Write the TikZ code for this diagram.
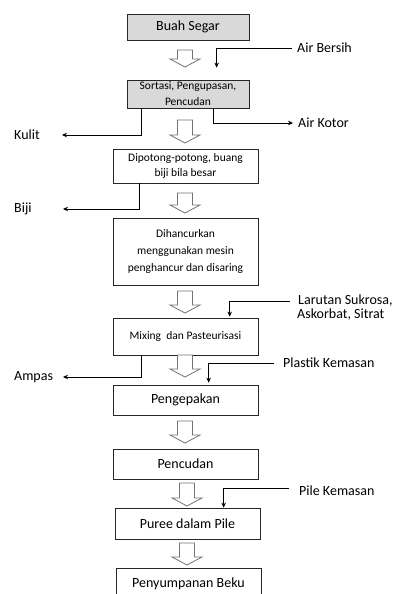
\documentclass[tikz,border=0pt]{standalone}
\usepackage{fontspec}
\setmainfont{Carlito}
\usetikzlibrary{arrows.meta}
\newcommand\blockarr[3]{\draw[hollow] (#1-7.5,#2) -- (#1+7.5,#2) -- (#1+7.5,#3-8) -- (#1+15,#3-8) -- (#1,#3) -- (#1-15,#3-8) -- (#1-7.5,#3-8) -- cycle;}
\begin{document}
\begin{tikzpicture}[x=1pt,y=-1pt,
 box/.style={draw=black!85,line width=0.7pt,fill=white,minimum width=145pt,inner sep=0pt,align=center,font=\fontsize{14}{16}\selectfont},
 graybox/.style={box,fill=black!15,minimum width=122pt},
 small/.style={font=\fontsize{11.5}{16}\selectfont},
 lbl/.style={inner sep=1pt,font=\fontsize{14}{16}\selectfont},
 conn/.style={draw=black,line width=0.6pt,-{Stealth[length=5pt,width=4.5pt]}},
 hollow/.style={draw=black!55,line width=0.8pt,fill=white}]
\useasboundingbox (0,0) rectangle (395,594);
\clip (0,0) rectangle (395,594);
% boxes
\node[graybox,minimum height=26pt] (b1) at (188,27) {Buah Segar};
\node[graybox,small,minimum height=28pt] (b2) at (188,94) {Sortasi, Pengupasan,\\Pencudan};
\node[box,small,minimum height=34pt,font=\fontsize{11.5}{15}\selectfont] (b3) at (185.5,166) {Dipotong-potong, buang\\biji bila besar};
\node[box,small,minimum height=67pt,font=\fontsize{11.5}{17}\selectfont] (b4) at (185.5,251.5) {Dihancurkan\\menggunakan mesin\\penghancur dan disaring};
\node[box,small,minimum height=37pt] (b5) at (185.5,336.5) {Mixing~ dan Pasteurisasi};
\node[box,minimum height=30pt] (b6) at (185.5,400) {Pengepakan};
\node[box,minimum height=30pt] (b7) at (185.5,464) {Pencudan};
\node[box,minimum height=31pt] (b8) at (187.5,523.5) {Puree dalam Pile};
\node[box,minimum height=31pt] (b9) at (188.5,584) {Penyumpanan Beku};
% block arrows
\blockarr{185}{50}{67}
\blockarr{185}{120}{143}
\blockarr{185}{193}{213}
\blockarr{185}{291}{313}
\blockarr{185}{355}{377}
\blockarr{185}{421}{443}
\blockarr{187}{483}{506}
\blockarr{187}{543}{565}
% labels
\node[lbl,anchor=west] (airbersih) at (296,48) {Air Bersih};
\node[lbl,anchor=west] (airkotor) at (297,123) {Air Kotor};
\node[lbl,anchor=west] (kulit) at (13,135) {Kulit};
\node[lbl,anchor=west] (biji) at (13,209) {Biji};
\node[lbl,anchor=west] (larutan) at (297,301) {Larutan Sukrosa,};
\node[lbl,anchor=west] (askorbat) at (296,315) {Askorbat, Sitrat};
\node[lbl,anchor=west] (ampas) at (13,377) {Ampas};
\node[lbl,anchor=west] (plastik) at (282,363) {Plastik Kemasan};
\node[lbl,anchor=west] (pile) at (298,491) {Pile Kemasan};
\coordinate (kulitend) at (62,135);
\coordinate (bijiend) at (63,209);
\coordinate (ampasend) at (63,377);
% connectors
\draw[conn] ([xshift=-4pt]airbersih.west) -| ([xshift=90pt,yshift=12pt]b2.north west);
\draw[conn] ([xshift=15pt]b2.south west) |- (kulitend);
\draw[conn] ([xshift=87pt]b2.south west) |- ([xshift=-4pt]airkotor.west);
\draw[conn] ([xshift=27pt]b3.south west) |- (bijiend);
\draw[conn] ([xshift=-7pt]larutan.west) -| ([xshift=117pt,yshift=1pt]b5.north west);
\draw[conn] ([xshift=29pt]b5.south west) |- (ampasend);
\draw[conn] ([xshift=-8pt]plastik.west) -| ([xshift=96pt,yshift=2pt]b6.north west);
\draw[conn] ([xshift=-9pt,yshift=3pt]pile.west) -| ([xshift=109pt]b8.north west);
\end{tikzpicture}
\end{document}
